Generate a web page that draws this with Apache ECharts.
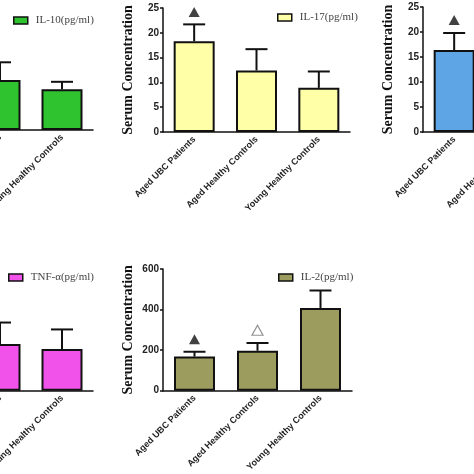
<!DOCTYPE html>
<html><head><meta charset="utf-8">
<script src="https://cdn.jsdelivr.net/npm/echarts@6/dist/echarts.min.js"></script>
<style>html,body{margin:0;padding:0;background:#fff;overflow:hidden;width:474px;height:474px;position:relative}#c{position:absolute;left:-200px;top:0;width:900px;height:474px}</style>
</head><body><div id="c"></div>
<script>
const categories = ['Aged UBC Patients', 'Aged Healthy Controls', 'Young Healthy Controls'];
// means and upper ends of error bars
const il10Mean = [11.5, 8.2, 6.7];
const il10Upper = [14.5, 11.1, 7.9];
const il17Mean = [18.3, 12.4, 8.9];
const il17Upper = [21.7, 16.7, 12.2];
const blueMean = [16.4, 11.5, 9.0];
const blueUpper = [19.8, 14.5, 12.0];
const tnfMean = [27.5, 23.0, 20.6];
const tnfUpper = [36.0, 33.6, 30.2];
const il2Mean = [168, 197, 408];
const il2Upper = [192, 235, 494];
// significance markers: [category index, position value, filled]
const il17Marks = [[0, 24.2, true]];
const blueMarks = [[0, 22.4, true]];
const il2Marks = [[0, 254, true], [1, 298, false]];

const OFF = 200; // the drawing surface starts 200px left of the window
const panels = [
  {name: 'IL-10(pg/ml)', color: '#2fc42f', mean: il10Mean, upper: il10Upper, max: 20, interval: 5, grid: {left: -93, width: 186, top: 8, height: 122}, legend: {left: 8, top: 10}, marks: []},
  {name: 'IL-17(pg/ml)', color: '#ffffa8', mean: il17Mean, upper: il17Upper, max: 25, interval: 5, grid: {left: 163, width: 187, top: 8, height: 124}, legend: {left: 272, top: 7}, marks: il17Marks},
  {name: 'IFN-γ(pg/ml)', color: '#5ea5e6', mean: blueMean, upper: blueUpper, max: 25, interval: 5, grid: {left: 423, width: 187, top: 7, height: 125}, legend: {left: 540, top: 7}, marks: blueMarks},
  {name: 'TNF-α(pg/ml)', color: '#f052ea', mean: tnfMean, upper: tnfUpper, max: 60, interval: 20, grid: {left: -93, width: 186, top: 269, height: 125}, legend: {left: 3, top: 267}, marks: []},
  {name: 'IL-2(pg/ml)', color: '#9c9c5e', mean: il2Mean, upper: il2Upper, max: 600, interval: 200, grid: {left: 163, width: 189, top: 269, height: 125}, legend: {left: 273, top: 267}, marks: il2Marks}
];

const grid = [], xAxis = [], yAxis = [], series = [], legend = [];
panels.forEach((p, i) => {
  grid.push({left: p.grid.left + OFF, width: p.grid.width, top: p.grid.top, height: p.grid.height});
  xAxis.push({
    type: 'category', gridIndex: i, data: categories,
    axisLine: {lineStyle: {color: '#111', width: 1.5}},
    axisTick: {alignWithLabel: true, length: 3, lineStyle: {color: '#111', width: 1.5}},
    axisLabel: {rotate: 45, interval: 0, fontFamily: 'Liberation Sans', fontWeight: 'bold', fontSize: 9, color: '#222', margin: 6}
  });
  yAxis.push({
    type: 'value', gridIndex: i, min: 0, max: p.max, interval: p.interval,
    name: 'Serum Concentration', nameLocation: 'middle', nameGap: 28,
    nameTextStyle: {fontFamily: 'Liberation Serif', fontWeight: 'bold', fontSize: 14, color: '#111'},
    splitLine: {show: false},
    axisLine: {show: true, lineStyle: {color: '#111', width: 1.5}},
    axisTick: {show: true, length: 3, lineStyle: {color: '#111', width: 1.5}},
    axisLabel: {fontFamily: 'Liberation Sans', fontWeight: 'bold', fontSize: 10, color: '#222', margin: 4}
  });
  series.push({
    name: p.name, type: 'bar', xAxisIndex: i, yAxisIndex: i, data: p.mean, barWidth: 41,
    itemStyle: {color: p.color, borderColor: '#111', borderWidth: 2}, z: 2
  });
  const err = p.mean.map((m, k) => [k, m, p.upper[k]]);
  series.push({
    type: 'custom', xAxisIndex: i, yAxisIndex: i, data: err, z: 3,
    renderItem: (params, api) => {
      const a = api.coord([api.value(0), api.value(1)]);
      const b = api.coord([api.value(0), api.value(2)]);
      return {type: 'group', children: [
        {type: 'line', shape: {x1: a[0], y1: a[1], x2: b[0], y2: b[1]}, style: {stroke: '#111', lineWidth: 2}},
        {type: 'line', shape: {x1: b[0] - 11, y1: b[1], x2: b[0] + 11, y2: b[1]}, style: {stroke: '#111', lineWidth: 2}}
      ]};
    }
  });
  if (p.marks.length) {
    series.push({
      type: 'scatter', xAxisIndex: i, yAxisIndex: i, symbol: 'triangle', symbolSize: [11, 10], z: 4,
      data: p.marks.map(m => ({value: [m[0], m[1]], itemStyle: m[2] ? {color: '#111'} : {color: '#fff', borderColor: '#777', borderWidth: 1.2}}))
    });
  }
  legend.push({
    data: [p.name], left: p.legend.left + OFF, top: p.legend.top, icon: 'rect', itemWidth: 14, itemHeight: 7, itemGap: 4,
    itemStyle: {borderColor: '#111', borderWidth: 1.5},
    textStyle: {fontFamily: 'Liberation Serif', fontSize: 11, color: '#444', padding: [0, 0, 0, 3]}
  });
});

const chart = echarts.init(document.getElementById('c'), null, {renderer: 'canvas'});
chart.setOption({animation: false, grid, xAxis, yAxis, series, legend});
</script></body></html>
